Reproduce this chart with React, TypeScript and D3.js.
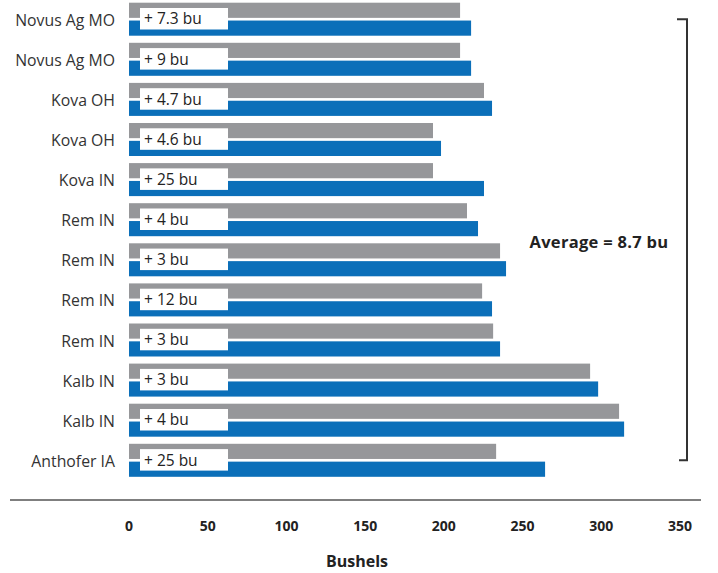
import React from "react";
import * as d3 from "d3";

const categories = [
  "Novus Ag MO", "Novus Ag MO", "Kova OH", "Kova OH", "Kova IN", "Rem IN",
  "Rem IN", "Rem IN", "Rem IN", "Kalb IN", "Kalb IN", "Anthofer IA",
];
const baseYield = [210.3, 210.3, 225.5, 193.1, 193.1, 214.7, 235.7, 224.3, 231.3, 292.9, 311.3, 233.2];
const treatedYield = [217.3, 217.3, 230.6, 198.2, 225.5, 221.7, 239.5, 230.6, 235.7, 298.0, 314.5, 264.3];
const gainLabels = [
  "+ 7.3 bu", "+ 9 bu", "+ 4.7 bu", "+ 4.6 bu", "+ 25 bu", "+ 4 bu",
  "+ 3 bu", "+ 12 bu", "+ 3 bu", "+ 3 bu", "+ 4 bu", "+ 25 bu",
];
const xTicks = [0, 50, 100, 150, 200, 250, 300, 350];
const averageLabel = "Average = 8.7 bu";
const axisTitle = "Bushels";

const W = 718;
const H = 573;
const FONT = "'Open Sans', 'Noto Sans', sans-serif";
const GRAY = "#96979a";
const BLUE = "#0b6fb9";

export default function App() {
  const idx = categories.map((_, i) => i);
  const x = d3.scaleLinear().domain([0, 350]).range([129, 680]);
  const y = d3.scaleBand<number>().domain(idx).range([2.7, 476.8]).paddingInner(0.177).paddingOuter(0);
  const sub = d3.scaleBand<string>().domain(["base", "treated"]).range([0, y.bandwidth()]).paddingInner(0.15);
  const yc = (i: number) => (y(i) as number) + y.bandwidth() / 2;
  const bracketTop = yc(0);
  const bracketBottom = yc(categories.length - 1);

  return (
    <svg
      width={W}
      height={H}
      style={{ position: "absolute", left: 0, top: 0, background: "#fff" }}
      fontFamily={FONT}
    >
      {idx.map((i) => {
        const top = y(i) as number;
        return (
          <g key={i}>
            <text x={115} y={yc(i) + 1} dy="0.35em" textAnchor="end" fontSize={15.8} fill="#333">
              {categories[i]}
            </text>
            <rect
              x={x(0)}
              y={top + (sub("base") as number)}
              width={x(baseYield[i]) - x(0)}
              height={sub.bandwidth()}
              fill={GRAY}
            />
            <rect
              x={x(0)}
              y={top + (sub("treated") as number)}
              width={x(treatedYield[i]) - x(0)}
              height={sub.bandwidth()}
              fill={BLUE}
            />
            <rect x={x(0) + 11} y={top + 5.3} width={88} height={21.5} fill="#fff" />
            <text x={x(0) + 15} y={top + 16.3} dy="0.35em" fontSize={15.5} fill="#222">
              {gainLabels[i]}
            </text>
          </g>
        );
      })}

      <path
        d={`M677,${bracketTop}H687V${bracketBottom}H679`}
        fill="none"
        stroke="#333"
        strokeWidth={2}
      />
      <text x={599} y={(bracketTop + bracketBottom) / 2 + 2} dy="0.35em" textAnchor="middle" fontSize={16.5} fontWeight={700} fill="#222" letterSpacing={0.3}>
        {averageLabel}
      </text>

      <line x1={10} x2={701} y1={500} y2={500} stroke="#555" strokeWidth={1.5} />
      {xTicks.map((t) => (
        <text key={t} x={x(t)} y={531} textAnchor="middle" fontSize={14} fontWeight={700} fill="#222">
          {t}
        </text>
      ))}
      <text x={357} y={567} textAnchor="middle" fontSize={16} fontWeight={700} fill="#222">
        {axisTitle}
      </text>
    </svg>
  );
}
